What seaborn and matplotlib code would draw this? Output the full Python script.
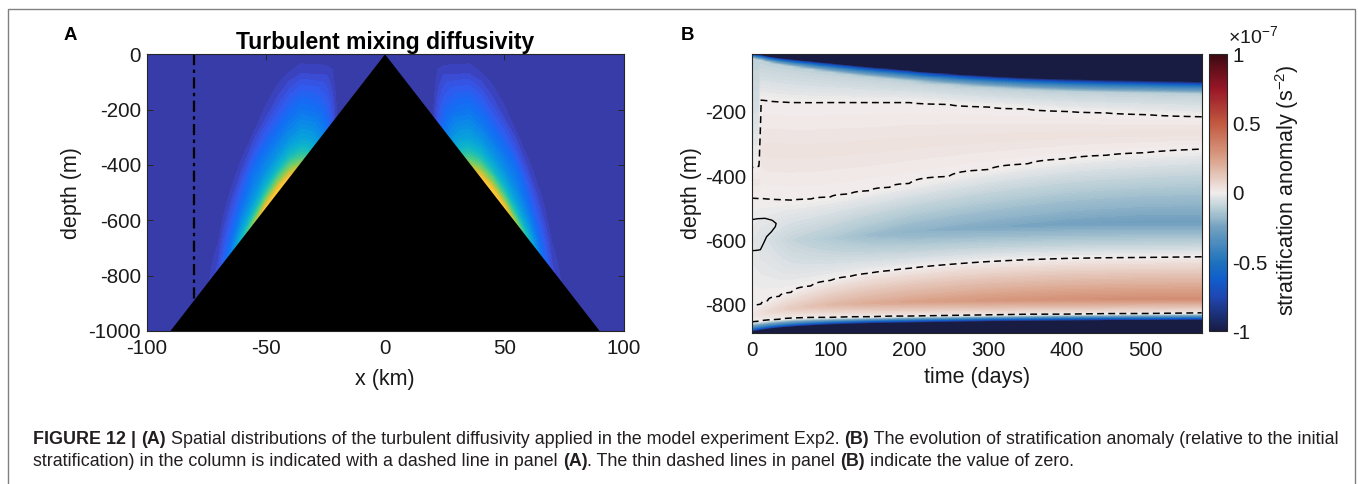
import numpy as np
import matplotlib
matplotlib.use("Agg")
import matplotlib.pyplot as plt
from matplotlib.colors import LinearSegmentedColormap, Normalize
from matplotlib.patches import Rectangle
import matplotlib.cm as cm
import seaborn as sns

# ======================= DATA =======================
# ---- Panel A: topography and turbulent diffusivity (normalised colour value) ----
topo_x_km = [-100, -90, 0, 90, 100]
topo_z_m = [-1000, -1000, 0, -1000, -1000]
column_x_km = -80

kx_km = [-90, -80, -75, -70, -65, -60, -55, -50, -45, -40, -35, -30, -25, -20, -15, -10, 0]
kh_m = [0, 15, 40, 80, 130, 190, 260, 330, 400, 480]   # height above the sea floor
k_norm = [
    [0, 0, 0.01, 0.06, 0.22, 0.44, 0.64, 0.82, 0.87, 0.82, 0.60, 0.38, 0.21, 0.01, 0, 0, 0],
    [0, 0, 0.01, 0.055, 0.20, 0.40, 0.56, 0.72, 0.78, 0.72, 0.54, 0.35, 0.19, 0.01, 0, 0, 0],
    [0, 0, 0.008, 0.045, 0.17, 0.33, 0.45, 0.56, 0.62, 0.58, 0.46, 0.31, 0.17, 0.01, 0, 0, 0],
    [0, 0, 0.004, 0.03, 0.13, 0.25, 0.33, 0.41, 0.44, 0.43, 0.36, 0.26, 0.14, 0.005, 0, 0, 0],
    [0, 0, 0, 0.01, 0.085, 0.17, 0.25, 0.29, 0.31, 0.31, 0.28, 0.19, 0.10, 0, 0, 0, 0],
    [0, 0, 0, 0, 0.04, 0.11, 0.19, 0.21, 0.22, 0.22, 0.20, 0.13, 0.06, 0, 0, 0, 0],
    [0, 0, 0, 0, 0.01, 0.04, 0.09, 0.12, 0.13, 0.14, 0.12, 0.05, 0.01, 0, 0, 0, 0],
    [0, 0, 0, 0, 0, 0.005, 0.025, 0.045, 0.06, 0.065, 0.04, 0, 0, 0, 0, 0, 0],
    [0, 0, 0, 0, 0, 0, 0, 0.01, 0.02, 0.01, 0, 0, 0, 0, 0, 0, 0],
    [0, 0, 0, 0, 0, 0, 0, 0, 0, 0, 0, 0, 0, 0, 0, 0, 0],
]
a_xticks = [-100, -50, 0, 50, 100]
a_yticks = [0, -200, -400, -600, -800, -1000]

# ---- Panel B: stratification anomaly (x1e-7 s^-2), key depths read per time ----
t_days = [0, 9, 12, 20, 35, 50, 75, 100, 125, 150, 175, 200, 250, 300, 350, 400, 450, 500, 571]
navy_top_z = [-19, -22, -23, -27, -32, -36, -42, -48, -54, -60, -65, -70, -80, -88, -94, -98, -101, -103, -106]
top_fade_m = [15, 17, 17, 19, 22, 24, 27, 30, 32, 33, 34, 35, 37, 38, 39, 40, 40, 40, 40]
zero1_z = [-374, -370, -163, -165, -168, -170, -171, -170, -170, -170, -170, -170, -176, -184, -191, -198, -203, -208, -215]
pink_amp = [0.025, 0.025, 0.03, 0.035, 0.035, 0.035, 0.035, 0.035, 0.035, 0.035, 0.035, 0.035, 0.035, 0.035,
            0.035, 0.035, 0.035, 0.035, 0.035]
zero2_z = [-469, -470, -470, -472, -474, -475, -472, -465, -456, -446, -435, -423, -401, -380, -362, -346, -335, -327, -316]
blue_peak_z = [-600, -600, -600, -600, -600, -600, -598, -595, -590, -585, -580, -575, -567, -560, -555, -550, -547, -545, -545]
blue_amp = [-0.03, -0.04, -0.045, -0.05, -0.07, -0.09, -0.11, -0.13, -0.15, -0.17, -0.185, -0.20, -0.215, -0.23,
            -0.24, -0.25, -0.255, -0.26, -0.26]
zero3_z = [-808, -801, -799, -790, -776, -763, -743, -726, -713, -703, -695, -688, -676, -667, -661, -657, -655, -654, -652]
red_peak_z = [-835, -830, -828, -824, -818, -813, -807, -802, -799, -797, -795, -793, -790, -788, -786, -785, -784, -783, -783]
red_amp = [0.02, 0.035, 0.045, 0.06, 0.085, 0.11, 0.14, 0.17, 0.19, 0.21, 0.225, 0.24, 0.26, 0.28, 0.29, 0.30,
           0.305, 0.31, 0.31]
zero4_z = [-855, -853, -852, -850, -847, -844, -842, -841, -840, -839, -838, -837, -835, -834, -832, -831, -830, -829, -827]
navy_bot_z = [-885, -881, -880, -877, -873, -870, -866, -863, -861, -859, -858, -857, -855, -853, -852, -851, -850, -850, -849]
b_zlim = [-889, -19]
b_tlim = [0, 571]
solid_t = [0, 8, 17, 26, 31, 30, 25, 19, 15, 11, 6, 0]
solid_z = [-536, -533, -532, -538, -548, -558, -574, -589, -610, -630, -632, -633]
b_xticks = [0, 100, 200, 300, 400, 500]
b_yticks = [-200, -400, -600, -800]
cb_ticks = [-1, -0.5, 0, 0.5, 1]

caption1 = [("FIGURE 12 | ", True), ("(A)", True),
            (" Spatial distributions of the turbulent diffusivity applied in the model experiment Exp2. ", False),
            ("(B)", True), (" The evolution of stratification anomaly (relative to the initial", False)]
caption2 = [("stratification) in the column is indicated with a dashed line in panel ", False), ("(A)", True),
            (". The thin dashed lines in panel ", False), ("(B)", True),
            (" indicate the value of zero.", False)]

# ======================= STYLE =======================
sns.set_theme(style="white")
plt.rcParams["font.family"] = ["Liberation Sans", "DejaVu Sans"]
plt.rcParams["mathtext.fontset"] = "custom"
plt.rcParams["mathtext.rm"] = "Liberation Sans"
plt.rcParams["mathtext.it"] = "Liberation Sans:italic"
plt.rcParams["mathtext.bf"] = "Liberation Sans:bold"
plt.rcParams["axes.unicode_minus"] = False

parula = LinearSegmentedColormap.from_list("parula_like", [
    (0.00, (0.208, 0.220, 0.620)), (0.05, (0.235, 0.280, 0.790)), (0.10, (0.200, 0.350, 0.930)),
    (0.17, (0.080, 0.420, 0.960)), (0.25, (0.040, 0.520, 0.920)), (0.33, (0.030, 0.620, 0.870)),
    (0.42, (0.050, 0.710, 0.790)), (0.50, (0.180, 0.770, 0.640)), (0.58, (0.400, 0.800, 0.450)),
    (0.66, (0.640, 0.790, 0.270)), (0.74, (0.870, 0.750, 0.210)), (0.82, (0.990, 0.760, 0.230)),
    (0.91, (0.960, 0.870, 0.150)), (1.00, (0.976, 0.983, 0.054))])
balance = LinearSegmentedColormap.from_list("balance_like", [
    (0.000, (0.094, 0.110, 0.263)), (0.125, (0.120, 0.280, 0.700)), (0.190, (0.060, 0.370, 0.800)),
    (0.250, (0.120, 0.450, 0.740)), (0.375, (0.450, 0.630, 0.750)), (0.440, (0.710, 0.800, 0.835)),
    (0.500, (0.945, 0.929, 0.926)), (0.625, (0.851, 0.626, 0.530)), (0.750, (0.759, 0.353, 0.250)),
    (0.875, (0.600, 0.091, 0.153)), (1.000, (0.236, 0.036, 0.071))])
balance.set_under((0.094, 0.110, 0.263))
balance.set_over((0.236, 0.036, 0.071))

AX_COL = "#262626"
TICK_FS = 14.8
LAB_FS = 15.5

W, H, DPI = 1358, 484, 100
fig = plt.figure(figsize=(W / DPI, H / DPI), dpi=DPI)
fig.patch.set_facecolor("white")

def fx(px):
    return px / W

def fy(py):
    return 1 - py / H

axA = fig.add_axes([fx(146.6), fy(331.0), (623.5 - 146.6) / W, (331.0 - 54.3) / H])
axB = fig.add_axes([fx(751.7), fy(332.7), (1201.7 - 751.7) / W, (332.7 - 54.0) / H])
cax = fig.add_axes([fx(1209.3), fy(331.3), (1226.7 - 1209.3) / W, (331.3 - 54.3) / H])

# ======================= PANEL A =======================
kx = np.array(kx_km, float)
kh = np.array(kh_m, float)
K = np.array(k_norm, float)
full_x = np.concatenate([kx, -kx[:-1][::-1]])
full_K = np.hstack([K, K[:, :-1][:, ::-1]])
bottom = np.interp(full_x, topo_x_km, topo_z_m)
XX = np.tile(full_x, (len(kh), 1))
ZZ = bottom[None, :] + kh[:, None]
levelsA = np.linspace(0, 1, 41)
levelsA[0] = -1e-6
normA = Normalize(levelsA[0], levelsA[-1])
first_band = parula(normA(0.5 * (levelsA[0] + levelsA[1])))
axA.set_facecolor(first_band)
axA.contourf(XX, ZZ, full_K, levels=levelsA, cmap=parula, norm=normA, zorder=1)
axA.fill(topo_x_km[1:4], topo_z_m[1:4], color="black", zorder=2, lw=0)
col_bottom = float(np.interp(column_x_km, topo_x_km, topo_z_m))
sns.lineplot(x=[column_x_km, column_x_km], y=[0, col_bottom], sort=False, estimator=None,
             color="black", lw=1.6, ax=axA, legend=False, zorder=3)
axA.get_lines()[-1].set_linestyle((0, (5, 2, 1.5, 2)))
axA.set_xlim(-100, 100)
axA.set_ylim(-1000, 0)
axA.set_xticks(a_xticks)
axA.set_xticklabels([str(v) for v in a_xticks])
axA.set_yticks(a_yticks)
axA.set_yticklabels([str(v) for v in a_yticks])

# ======================= PANEL B =======================
zgrid = np.linspace(b_zlim[0], b_zlim[1], 436)
field = np.empty((len(zgrid), len(t_days)))
for j in range(len(t_days)):
    pts = [
        (navy_top_z[j] + 30, -5.0),
        (navy_top_z[j], -1.0),
        (navy_top_z[j] - 0.35 * top_fade_m[j], -0.5),
        (navy_top_z[j] - top_fade_m[j], -0.1),
        (zero1_z[j], 0.0),
        ((zero1_z[j] + zero2_z[j]) / 2, pink_amp[j]),
        (zero2_z[j], 0.0),
        (blue_peak_z[j], blue_amp[j]),
        (zero3_z[j], 0.0),
        (red_peak_z[j], red_amp[j]),
        (zero4_z[j], 0.0),
        (navy_bot_z[j] + 8, -0.5),
        (navy_bot_z[j], -1.0),
        (navy_bot_z[j] - 20, -5.0),
    ]
    zs = np.array([p[0] for p in pts])[::-1]
    vs = np.array([p[1] for p in pts])[::-1]
    field[:, j] = np.interp(zgrid, zs, vs)

axB.contourf(t_days, zgrid, field, levels=np.linspace(-1, 1, 201), cmap=balance, extend="both", zorder=1)
axB.contour(t_days, zgrid, field, levels=[0], colors="black", linewidths=1.1,
            linestyles=[(0, (4.5, 2.8))], zorder=3)
sns.lineplot(x=solid_t, y=solid_z, sort=False, estimator=None, color="black", lw=1.0,
             ax=axB, legend=False, zorder=3)
axB.set_xlim(*b_tlim)
axB.set_ylim(*b_zlim)
axB.set_xticks(b_xticks)
axB.set_xticklabels([str(v) for v in b_xticks])
axB.set_yticks(b_yticks)
axB.set_yticklabels([str(v) for v in b_yticks])

# colorbar
sm = cm.ScalarMappable(norm=Normalize(-1, 1), cmap=balance)
cb = fig.colorbar(sm, cax=cax, ticks=cb_ticks)
cb.ax.set_yticklabels([("%g" % v) for v in cb_ticks])
cb.outline.set_edgecolor(AX_COL)
cb.outline.set_linewidth(0.8)
cax.tick_params(axis="y", direction="in", length=3, width=0.7, color=AX_COL,
                labelsize=TICK_FS, pad=4, labelcolor="#1a1a1a")

for ax in (axA, axB):
    for s in ax.spines.values():
        s.set_visible(True)
        s.set_color(AX_COL)
        s.set_linewidth(0.8)
        s.set_zorder(5)
    ax.tick_params(axis="both", direction="in", length=4, width=0.7, color=AX_COL,
                   top=True, right=True, bottom=True, left=True,
                   labelsize=TICK_FS, labelcolor="#1a1a1a")
    ax.tick_params(axis="x", pad=6)
    ax.tick_params(axis="y", pad=4)
    ax.set_xlabel("")
    ax.set_ylabel("")

# ======================= TEXTS =======================
txt_col = "#1a1a1a"
fig.text(fx(70.3), fy(35), "A", fontsize=13.4, fontweight="bold", ha="center", va="center", color="black")
fig.text(fx(687), fy(35), "B", fontsize=13.4, fontweight="bold", ha="center", va="center", color="black")
fig.text(fx(385), fy(42), "Turbulent mixing diffusivity", fontsize=16.5, fontweight="bold",
         ha="center", va="center", color="black")
fig.text(fx(71.5), fy(193), "depth (m)", fontsize=LAB_FS, rotation=90, ha="center", va="center", color=txt_col)
fig.text(fx(691), fy(193), "depth (m)", fontsize=LAB_FS, rotation=90, ha="center", va="center", color=txt_col)
fig.text(fx(385), fy(379), "x (km)", fontsize=LAB_FS, ha="center", va="center", color=txt_col)
fig.text(fx(977), fy(378), "time (days)", fontsize=LAB_FS, ha="center", va="center", color=txt_col)
fig.text(fx(1287), fy(190), "stratification anomaly (s$^{-2}$)", fontsize=LAB_FS, rotation=90,
         ha="center", va="center", color=txt_col)
fig.text(fx(1228), fy(36), "\u00d710$^{-7}$", fontsize=14, ha="left", va="center", color=txt_col)

# frame around the figure
fig.add_artist(Rectangle((fx(7.5), -0.05), (1355 - 7.5) / W, fy(9) + 0.05, transform=fig.transFigure,
                         fill=False, edgecolor="#808080", lw=1.0))

# caption, fitted to the width of the reference line
renderer = fig.canvas.get_renderer()
cap_col = "#231f20"

def piece_width(txt, bold, size):
    a = fig.text(0, 0, "a" + txt + "a", fontsize=size, fontweight="bold" if bold else "normal")
    b = fig.text(0, 0, "aa", fontsize=size, fontweight="bold" if bold else "normal")
    w = a.get_window_extent(renderer).width - b.get_window_extent(renderer).width
    a.remove()
    b.remove()
    return w

base = 10.0
w1 = sum(piece_width(t, bo, base) for t, bo in caption1)
cap_fs = base * (1338 - 33) / w1

def rich_line(x0, y, parts, size):
    x = x0
    for txt, bold in parts:
        fig.text(fx(x), fy(y), txt, fontsize=size, fontweight="bold" if bold else "normal",
                 ha="left", va="center", color=cap_col)
        x += piece_width(txt, bold, size)

rich_line(33, 440, caption1, cap_fs)
rich_line(33, 461, caption2, cap_fs)

fig.savefig("out.png", dpi=DPI, facecolor="white")
